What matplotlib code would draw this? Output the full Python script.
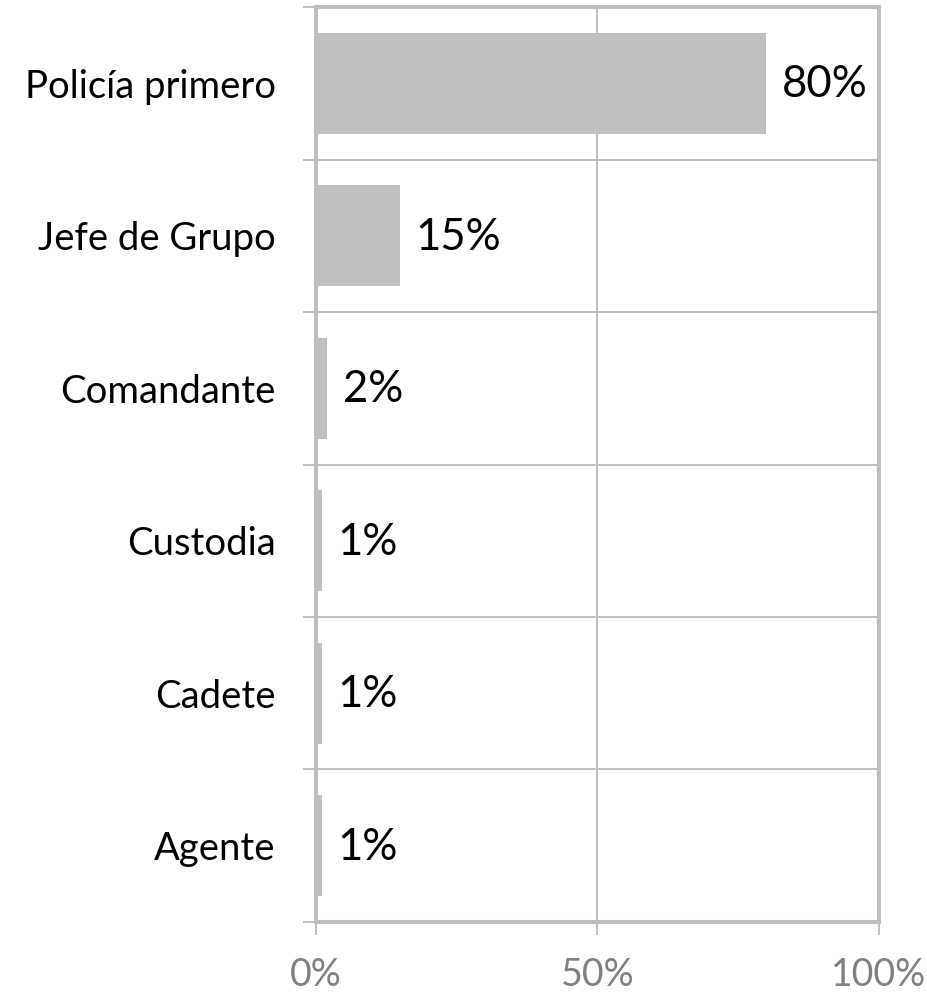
import matplotlib.pyplot as plt
from matplotlib.ticker import FixedLocator, FuncFormatter

plt.rcParams['font.family'] = ['Lato', 'DejaVu Sans']

categorias = ['Policía primero', 'Jefe de Grupo', 'Comandante', 'Custodia', 'Cadete', 'Agente']
valores = [80, 15, 2, 1, 1, 1]
etiquetas = ['80%', '15%', '2%', '1%', '1%', '1%']
x_ticks = [0, 50, 100]

gris = '#BFBFBF'

fig = plt.figure(figsize=(9.28, 9.92), dpi=100)
ax = fig.add_axes([0.3405, 0.0706, 0.6065, 0.9223])

n = len(categorias)
pos = list(range(n))[::-1]  # primero arriba
barras = ax.barh(pos, valores, height=0.66, color=gris, zorder=2)

for b, txt in zip(barras, etiquetas):
    ax.annotate(txt, (b.get_width(), b.get_y() + b.get_height() / 2),
                xytext=(11, -1), textcoords='offset points',
                ha='left', va='center', fontsize=31.5, color='black')

ax.set_xlim(0, 100)
ax.set_ylim(-0.5, n - 0.5)

ax.set_xticks(x_ticks)
ax.xaxis.set_major_formatter(FuncFormatter(lambda v, p: f'{v:.0f}%'))
ax.tick_params(axis='x', length=9, width=1.4, color=gris, labelsize=27,
               labelcolor='#808080', pad=16)

ax.set_yticks(pos)
ax.set_yticklabels(categorias)
ax.tick_params(axis='y', which='major', length=0, labelsize=27.5, pad=29)
ax.yaxis.set_minor_locator(FixedLocator([i - 0.5 for i in range(n + 1)]))
ax.tick_params(axis='y', which='minor', length=9.5, width=1.4, color=gris)

ax.grid(axis='x', which='major', color=gris, linewidth=1.4, zorder=0)
ax.grid(axis='y', which='minor', color=gris, linewidth=1.4, zorder=0)
ax.set_axisbelow(True)

for s in ax.spines.values():
    s.set_color(gris)
    s.set_linewidth(2.9)

fig.savefig('out.png', dpi=100)
